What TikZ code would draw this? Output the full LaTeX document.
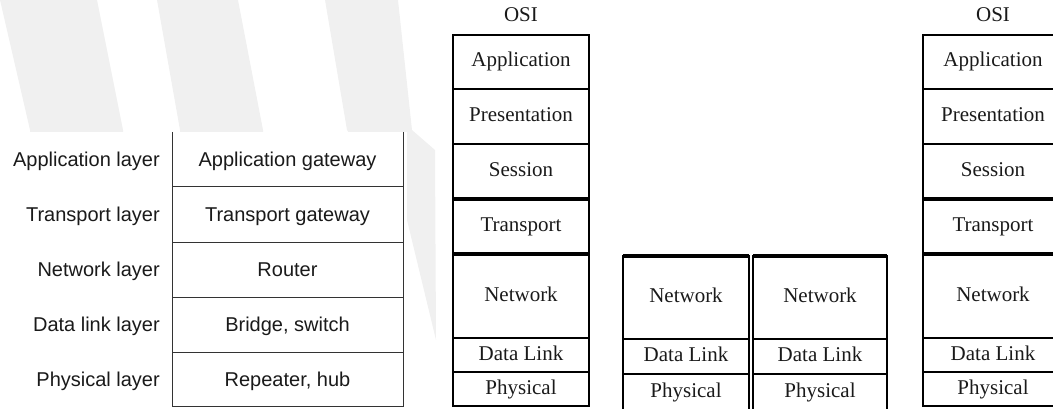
\documentclass[tikz,border=0pt]{standalone}
\usepackage{fontspec}
\setmainfont{Liberation Serif}
\newfontfamily\tabfont{Liberation Sans}
\definecolor{streifen}{HTML}{F0F0F0}
\definecolor{tablinie}{HTML}{333333}
\definecolor{schrift}{HTML}{1A1A1A}

\tikzset{
  schicht/.style={draw, line width=2.2pt, outer sep=0pt, inner sep=0pt,
    minimum width=136pt, text height=14pt, text depth=4pt, text=schrift,
    font=\fontsize{21}{25}\selectfont},
  dick/.style={line width=3.4pt},
  osi/.style={inner sep=0pt, text height=14pt, text depth=4pt, text=schrift,
    font=\fontsize{21}{25}\selectfont},
  geraet/.style={outer sep=0pt, inner sep=0pt, minimum width=231pt,
    text height=14pt, text depth=0pt, text=schrift,
    font=\tabfont\fontsize{20}{24}\selectfont},
  ebene/.style={anchor=east, inner sep=0pt, text height=14pt, text depth=0pt,
    text=schrift, font=\tabfont\fontsize{20}{24}\selectfont},
  tablinie/.style={draw=tablinie, line width=1pt}
}

\begin{document}
\begin{tikzpicture}[x=1pt, y=-1pt]
  \useasboundingbox (0,0) rectangle (1053,409);
  \clip (0,0) rectangle (1053,409);
  % Hintergrund: helle Streifen
  \fill[streifen] (0,0) -- (97,0) -- (123,130) -- (150,409) -- (60,409) -- (30,130) -- cycle;
  \fill[streifen] (157,0) -- (238,0) -- (263,130) -- (280,409) -- (200,409) -- (180,130) -- cycle;
  \fill[streifen] (325,0) -- (398,0) -- (412,130) -- (435,150) -- (436,340) -- (407,220) -- (347,130) -- cycle;
  \fill[white] (0,132) rectangle (407,409); % Tabelle links

  % Tabelle: Schicht und Geraet
  \node[geraet, minimum height=55pt] (g1) at (287.5,159.5) {Application gateway};
  \node[geraet, minimum height=55pt] (g2) at (287.5,214.5) {Transport gateway};
  \node[geraet, minimum height=55pt] (g3) at (287.5,269.5) {Router};
  \node[geraet, minimum height=55pt] (g4) at (287.5,324.5) {Bridge, switch};
  \node[geraet, minimum height=54pt] (g5) at (287.5,379.5) {Repeater, hub};
  \node[ebene] (e1) at (160,159.5) {Application layer};
  \node[ebene] (e2) at (160,214.5) {Transport layer};
  \node[ebene] (e3) at (160,269.5) {Network layer};
  \node[ebene] (e4) at (160,324.5) {Data link layer};
  \node[ebene] (e5) at (160,379.5) {Physical layer};
  \draw[tablinie] (g1.north west) -- (g5.south west); % links
  \draw[tablinie] (g1.north east) -- (g5.south east); % rechts
  \draw[tablinie] (g1.south west) -- (g1.south east);
  \draw[tablinie] (g2.south west) -- (g2.south east);
  \draw[tablinie] (g3.south west) -- (g3.south east);
  \draw[tablinie] (g4.south west) -- (g4.south east);
  \draw[tablinie] (g5.south west) -- (g5.south east);

  % erster OSI-Stapel
  \node[osi] (osiA) at (521,17) {OSI};
  \node[schicht, minimum height=54pt] (anwA) at (521,62) {Application};
  \node[schicht, minimum height=55pt] (darA) at (521,116.5) {Presentation};
  \node[schicht, minimum height=55pt] (sitA) at (521,171.5) {Session};
  \node[schicht, minimum height=55pt] (trA) at (521,226.5) {Transport};
  \node[schicht, minimum height=84pt] (netA) at (521,296) {Network};
  \node[schicht, minimum height=34pt] (dlA) at (521,355) {Data Link};
  \node[schicht, minimum height=34pt] (phA) at (521,389) {Physical};
  \draw[dick] (trA.north west) -- (trA.north east); % Transport oben
  \draw[dick] (trA.south west) -- (trA.south east); % Transport unten

  % Router in der Mitte: zwei Stapel
  \node[schicht, line width=2pt, minimum width=126pt, minimum height=83pt] (netB) at (686,297.5) {Network};
  \node[schicht, line width=2pt, minimum width=126pt, minimum height=35pt] (dlB) at (686,356.5) {Data Link};
  \node[schicht, line width=2pt, minimum width=126pt, minimum height=37pt] (phB) at (686,392.5) {Physical};
  \node[schicht, line width=2pt, minimum width=134pt, minimum height=83pt] (netC) at (820,297.5) {Network};
  \node[schicht, line width=2pt, minimum width=134pt, minimum height=35pt] (dlC) at (820,356.5) {Data Link};
  \node[schicht, line width=2pt, minimum width=134pt, minimum height=37pt] (phC) at (820,392.5) {Physical};
  \draw[dick] (netB.north west) -- (netB.north east);
  \draw[dick] (netC.north west) -- (netC.north east);

  % zweiter OSI-Stapel
  \node[osi] (osiD) at (993,17) {OSI};
  \node[schicht, minimum width=140pt, minimum height=54pt] (anwD) at (993,62) {Application};
  \node[schicht, minimum width=140pt, minimum height=55pt] (darD) at (993,116.5) {Presentation};
  \node[schicht, minimum width=140pt, minimum height=55pt] (sitD) at (993,171.5) {Session};
  \node[schicht, minimum width=140pt, minimum height=55pt] (trD) at (993,226.5) {Transport};
  \node[schicht, minimum width=140pt, minimum height=84pt] (netD) at (993,296) {Network};
  \node[schicht, minimum width=140pt, minimum height=34pt] (dlD) at (993,355) {Data Link};
  \node[schicht, minimum width=140pt, minimum height=34pt] (phD) at (993,389) {Physical};
  \draw[dick] (trD.north west) -- (trD.north east);
  \draw[dick] (trD.south west) -- (trD.south east);
\end{tikzpicture}
\end{document}
